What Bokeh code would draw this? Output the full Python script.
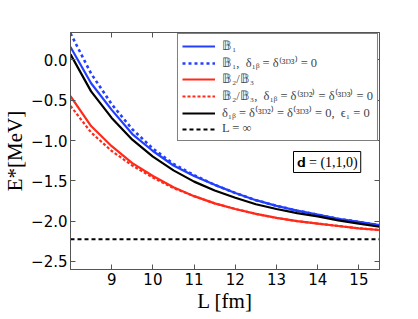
from bokeh.plotting import figure
from bokeh.models import (Legend, LegendItem, LinearAxis, FixedTicker, Label, Range1d)
from bokeh.embed import file_html
from bokeh.resources import INLINE

# ---- data ----
L = [8.0, 8.5, 9.0, 9.5, 10.0, 10.5, 11.0, 11.5, 12.0, 12.5, 13.0, 13.5, 14.0, 14.5, 15.0, 15.5]
b1 = [0.16, -0.29, -0.62, -0.92, -1.13, -1.31, -1.44, -1.55, -1.65, -1.74, -1.81, -1.87, -1.92, -1.97, -2.01, -2.05]
b1_nod = [0.33, -0.17, -0.55, -0.86, -1.10, -1.29, -1.43, -1.55, -1.65, -1.74, -1.81, -1.87, -1.92, -1.97, -2.01, -2.05]
b23 = [-0.45, -0.82, -1.07, -1.28, -1.44, -1.58, -1.69, -1.78, -1.85, -1.91, -1.96, -2.00, -2.03, -2.06, -2.09, -2.11]
b23_nod = [-0.57, -0.90, -1.13, -1.31, -1.46, -1.59, -1.69, -1.78, -1.85, -1.91, -1.96, -2.00, -2.03, -2.06, -2.09, -2.11]
black = [0.07, -0.39, -0.72, -0.99, -1.20, -1.37, -1.51, -1.62, -1.71, -1.79, -1.85, -1.90, -1.94, -1.99, -2.03, -2.07]
E_inf = -2.2246

x_ticks = [9, 10, 11, 12, 13, 14, 15]
y_ticks = [-2.5, -2.0, -1.5, -1.0, -0.5, 0.0]
y_tick_labels = ["\u22122.5", "\u22122.0", "\u22121.5", "\u22121.0", "\u22120.5", "0.0"]

legend_labels = [
    "\U0001D539\u2081",
    "\U0001D539\u2081,  \u03b4\u2081\u1d66 = \u03b4\u207d\u00b3\u1d30\u00b3\u207e = 0",
    "\U0001D539\u2082/\U0001D539\u2083",
    "\U0001D539\u2082/\U0001D539\u2083,  \u03b4\u2081\u1d66 = \u03b4\u207d\u00b3\u1d30\u00b2\u207e = \u03b4\u207d\u00b3\u1d30\u00b3\u207e = 0",
    "\u03b4\u2081\u1d66 = \u03b4\u207d\u00b3\u1d30\u00b2\u207e = \u03b4\u207d\u00b3\u1d30\u00b3\u207e = 0,  \u03f5\u2081 = 0",
    "L = \u221e",
]
box_text = "\U0001D41D = (1,1,0)"

BLUE = "#2440ff"
RED = "#ff2a1a"

p = figure(frame_width=309, frame_height=237, output_backend="svg", toolbar_location=None,
           x_range=Range1d(8.0, 15.5), y_range=Range1d(-2.6, 0.34),
           min_border_left=60, min_border_right=33, min_border_top=32, min_border_bottom=44)
p.background_fill_color = "white"
p.border_fill_color = "white"
p.outline_line_color = "#555555"
p.outline_line_width = 1
p.xgrid.visible = False
p.ygrid.visible = False

r_b1 = p.line(L, b1, line_color=BLUE, line_width=2.2)
r_b1n = p.line(L, b1_nod, line_color=BLUE, line_width=2.6, line_dash="3 3")
r_b23 = p.line(L, b23, line_color=RED, line_width=2.2)
r_b23n = p.line(L, b23_nod, line_color=RED, line_width=2.2, line_dash="3 2")
r_blk = p.line(L, black, line_color="black", line_width=2.2)
r_inf = p.line([L[0], L[-1]], [E_inf, E_inf], line_color="black", line_width=2, line_dash="4 3")

tick_font = "DejaVu Sans"
for ax in (p.xaxis[0], p.yaxis[0]):
    ax.major_tick_in = 5
    ax.major_tick_out = 0
    ax.minor_tick_line_color = None
    ax.axis_line_color = "#555555"
    ax.major_tick_line_color = "#555555"
    ax.major_label_text_font = tick_font
    ax.major_label_text_font_size = "15px"
    ax.major_label_text_color = "black"
    ax.axis_label_text_font = "Liberation Serif"
    ax.axis_label_text_font_style = "normal"
    ax.axis_label_text_font_size = "21px"
    ax.axis_label_text_color = "black"
    ax.major_label_standoff = 3
    ax.axis_label_standoff = 1

p.xaxis[0].ticker = FixedTicker(ticks=x_ticks)
p.yaxis[0].ticker = FixedTicker(ticks=y_ticks)
p.yaxis[0].major_label_overrides = {v: s for v, s in zip(y_ticks, y_tick_labels)}
p.xaxis[0].axis_label = "L [fm]"
p.yaxis[0].axis_label = "E*[MeV]"

top = LinearAxis(ticker=FixedTicker(ticks=x_ticks),
                 major_label_overrides={v: "" for v in x_ticks},
                 major_tick_in=5, major_tick_out=0, minor_tick_line_color=None,
                 axis_line_color="#555555", major_tick_line_color="#555555", major_label_standoff=0)
right = LinearAxis(ticker=FixedTicker(ticks=y_ticks),
                   major_label_overrides={v: "" for v in y_ticks},
                   major_tick_in=5, major_tick_out=0, minor_tick_line_color=None,
                   axis_line_color="#555555", major_tick_line_color="#555555", major_label_standoff=0)
p.add_layout(top, "above")
p.add_layout(right, "right")

items = [LegendItem(label=lab, renderers=[r]) for lab, r in
         zip(legend_labels, [r_b1, r_b1n, r_b23, r_b23n, r_blk, r_inf])]
leg = Legend(items=items, location="top_right", margin=1, padding=4, spacing=0,
             label_height=12, glyph_height=12, glyph_width=33, label_standoff=7,
             label_text_font="Liberation Serif", label_text_font_size="12.5px",
             border_line_color="black", border_line_width=1,
             background_fill_color="white", background_fill_alpha=1.0)
p.add_layout(leg, "center")

box = Label(x=223, y=97, x_units="screen", y_units="screen", text=box_text,
            text_font="Liberation Serif", text_font_size="14px", text_color="black",
            border_line_color="black", border_line_width=1,
            background_fill_color="white", padding=3)
p.add_layout(box)

open("out.html", "w").write(file_html(p, INLINE))
